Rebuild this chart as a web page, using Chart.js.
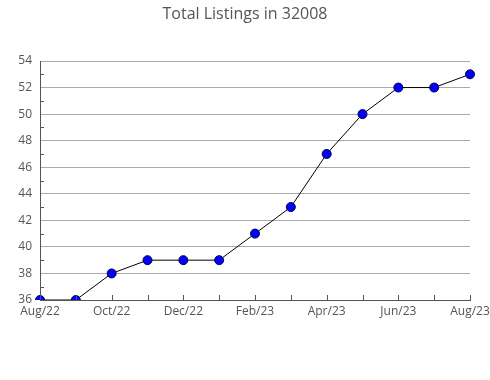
<!DOCTYPE html>
<html>
<head>
<meta charset="utf-8">
<script src="https://cdn.jsdelivr.net/npm/chart.js@4"></script>
<style>
  html, body { margin: 0; padding: 0; background: #fff; }
  #wrap { width: 490px; height: 380px; }
</style>
</head>
<body>
<div id="wrap"><canvas id="listings" width="490" height="380"></canvas></div>
<script>
'use strict';

const months = ['Aug/22', 'Sep/22', 'Oct/22', 'Nov/22', 'Dec/22', 'Jan/23', 'Feb/23',
  'Mar/23', 'Apr/23', 'May/23', 'Jun/23', 'Jul/23', 'Aug/23'];
const listings = [36, 36, 38, 39, 39, 39, 41, 43, 47, 50, 52, 52, 53];
const yMin = 36;
const yMax = 54;

// small tick marks drawn inside the plot: every month on x, odd values on y
const innerTicks = {
  id: 'innerTicks',
  afterDraw(chart) {
    const ctx = chart.ctx;
    const x = chart.scales.x;
    const y = chart.scales.y;
    const area = chart.chartArea;
    ctx.save();
    ctx.strokeStyle = '#555';
    ctx.lineWidth = 1;
    ctx.beginPath();
    months.forEach((m, i) => {
      const px = Math.round(x.getPixelForValue(i)) + 0.5;
      ctx.moveTo(px, area.bottom);
      ctx.lineTo(px, area.bottom - 5);
    });
    for (let v = yMin + 1; v < yMax; v += 2) {
      const py = Math.round(y.getPixelForValue(v)) + 0.5;
      ctx.moveTo(area.left, py);
      ctx.lineTo(area.left + 4, py);
    }
    ctx.stroke();
    ctx.restore();
  },
};

new Chart(document.getElementById('listings'), {
  type: 'line',
  data: {
    labels: months,
    datasets: [
      {
        data: listings,
        borderColor: '#000',
        borderWidth: 1,
        tension: 0,
        pointRadius: 4.5,
        pointBackgroundColor: '#0000ff',
        pointBorderColor: '#000044',
        pointBorderWidth: 1,
      },
    ],
  },
  options: {
    responsive: false,
    animation: false,
    layout: { padding: { left: 0, right: 0, top: 0, bottom: 0 } },
    plugins: {
      legend: { display: false },
      tooltip: { enabled: false },
      title: {
        display: true,
        text: 'Total Listings in 32008',
        color: '#555',
        font: { family: 'Open Sans', size: 16, weight: 'normal' },
        padding: { top: 5, bottom: 36.8 },
      },
    },
    scales: {
      x: {
        offset: false,
        grid: { display: false, drawTicks: false },
        border: { display: true, color: '#555' },
        ticks: {
          autoSkip: false,
          maxRotation: 0,
          padding: 4,
          color: '#555',
          font: { family: 'Open Sans', size: 12 },
          callback: function (value, index) {
            return index % 2 === 0 ? months[index] : '';
          },
        },
        afterFit: function (scale) {
          scale.height = 80;
          scale.paddingRight = 20;
          scale.paddingLeft = 0;
        },
      },
      y: {
        min: yMin,
        max: yMax,
        grid: { color: '#aaa', drawTicks: false },
        border: { display: true, color: '#555' },
        ticks: {
          stepSize: 2,
          padding: 8,
          color: '#555',
          font: { family: 'Open Sans', size: 12 },
        },
        afterFit: function (scale) {
          scale.width = 40;
        },
      },
    },
  },
  plugins: [innerTicks],
});
</script>
</body>
</html>
